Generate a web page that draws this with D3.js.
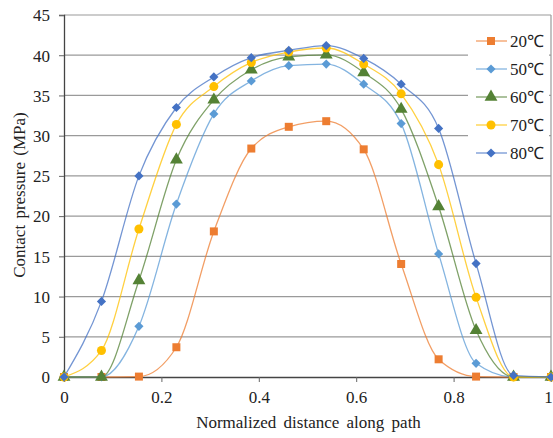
<!DOCTYPE html>
<html><head><meta charset="utf-8">
<script src="https://cdn.jsdelivr.net/npm/d3@7"></script>
<style>body{margin:0;background:#fff}svg{display:block}</style>
</head><body><svg id="c" width="553" height="438"></svg>
<script>
const xPositions = [0, 1/13, 2/13, 3/13, 4/13, 5/13, 6/13, 7/13, 8/13, 9/13, 10/13, 11/13, 12/13, 1];
const seriesNames = ["20℃", "50℃", "60℃", "70℃", "80℃"];
const values20 = [0, 0, 0.05, 3.7, 18.1, 28.4, 31.1, 31.8, 28.3, 14.05, 2.2, 0.05, 0, 0];
const values50 = [0, 0, 6.3, 21.5, 32.7, 36.8, 38.7, 38.9, 36.4, 31.5, 15.3, 1.7, 0, 0];
const values60 = [0, 0, 12.0, 27.0, 34.45, 38.2, 39.8, 40.05, 37.85, 33.3, 21.2, 5.8, 0, 0];
const values70 = [0, 3.3, 18.4, 31.4, 36.1, 39.1, 40.4, 40.9, 38.9, 35.2, 26.4, 9.9, 0, 0];
const values80 = [0, 9.4, 25.0, 33.5, 37.3, 39.7, 40.6, 41.2, 39.6, 36.4, 30.9, 14.1, 0.2, 0];
const xTicks = [0, 0.2, 0.4, 0.6, 0.8, 1];
const yTicks = [0, 5, 10, 15, 20, 25, 30, 35, 40, 45];
const colors = ["#ED7D31", "#5B9BD5", "#548235", "#FFC000", "#4472C4"];
const symbols = [d3.symbolSquare, d3.symbolSquare, d3.symbolTriangle, d3.symbolCircle, d3.symbolSquare];
const symRot = [0, 45, 0, 0, 45];
const symSizes = [64, 42, 72, 64, 42];
const allValues = [values20, values50, values60, values70, values80];

const svg = d3.select("#c");
const font = "'Liberation Serif','Times New Roman',serif";
const L = 64, R = 551, T = 15, B = 377;
const x = d3.scaleLinear().domain([0, 1]).range([L, R]);
const y = d3.scaleLinear().domain([0, 45]).range([B, T]);

// gridlines
svg.append("g").selectAll("line").data(yTicks.filter(d => d > 0)).join("line")
  .attr("x1", L).attr("x2", R).attr("y1", d => y(d)).attr("y2", d => y(d))
  .attr("stroke", "#9a9a9a").attr("stroke-width", 1.2);
// right border
svg.append("line").attr("x1", R).attr("x2", R).attr("y1", T).attr("y2", B)
  .attr("stroke", "#9a9a9a").attr("stroke-width", 1.2);

// axes
const xAxis = svg.append("g").attr("transform", `translate(0,${B})`)
  .call(d3.axisBottom(x).tickValues(xTicks).tickFormat(d => d3.format("")(d)).tickSize(5).tickPadding(9));
const yAxis = svg.append("g").attr("transform", `translate(${L},0)`)
  .call(d3.axisLeft(y).tickValues(yTicks).tickSize(5).tickPadding(9));
[xAxis, yAxis].forEach(g => {
  g.select(".domain").attr("stroke", "#444").attr("stroke-width", 1.3);
  g.selectAll(".tick line").attr("stroke", "#666");
  g.selectAll("text").attr("font-family", font).attr("font-size", 17).attr("fill", "#222");
});
yAxis.selectAll(".tick text").attr("dy", "0.34em");
xAxis.selectAll(".tick text").filter(d => d === 1).attr("dx", -3);

// series
const line = d3.line().x((d, i) => x(xPositions[i])).y(d => y(d)).curve(d3.curveMonotoneX);
allValues.forEach((vals, k) => {
  const g = svg.append("g");
  g.append("path").attr("d", line(vals)).attr("fill", "none")
    .attr("stroke", colors[k]).attr("stroke-width", 1.3).attr("stroke-opacity", 0.75);
  g.selectAll("path.m").data(vals).join("path").attr("class", "m")
    .attr("transform", (d, i) => `translate(${x(xPositions[i])},${y(d)}) rotate(${symRot[k]})`)
    .attr("d", d3.symbol().type(symbols[k]).size(symSizes[k]))
    .attr("fill", colors[k]);
});

// legend
const lg = svg.append("g");
lg.append("rect").attr("x", 468).attr("y", 22).attr("width", 81).attr("height", 146).attr("fill", "#fff");
seriesNames.forEach((name, k) => {
  const ly = 41 + k * 28;
  lg.append("line").attr("x1", 476).attr("x2", 507).attr("y1", ly).attr("y2", ly)
    .attr("stroke", colors[k]).attr("stroke-width", 1.3).attr("stroke-opacity", 0.75);
  lg.append("path").attr("transform", `translate(491,${ly}) rotate(${symRot[k]})`)
    .attr("d", d3.symbol().type(symbols[k]).size(symSizes[k])).attr("fill", colors[k]);
  lg.append("text").attr("x", 510).attr("y", ly).attr("dy", "0.36em")
    .attr("font-family", font).attr("font-size", 17).attr("fill", "#222").text(name);
});

// axis titles
svg.append("text").attr("x", (L + R) / 2 + 1).attr("y", 428).attr("text-anchor", "middle")
  .attr("font-family", font).attr("font-size", 17).attr("word-spacing", 3).attr("fill", "#222").text("Normalized distance along path");
svg.append("text").attr("transform", `translate(25,${(T + B) / 2 - 1}) rotate(-90)`).attr("text-anchor", "middle")
  .attr("font-family", font).attr("font-size", 17).attr("word-spacing", 2).attr("fill", "#222").text("Contact pressure (MPa)");
</script></body></html>
